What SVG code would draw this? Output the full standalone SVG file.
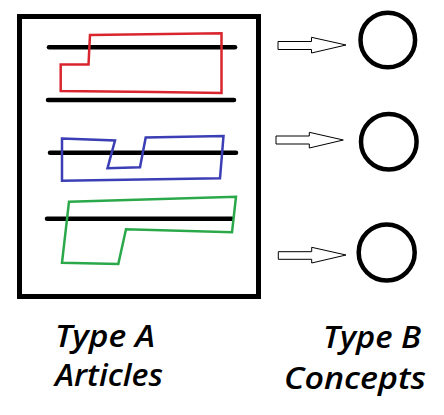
<svg xmlns="http://www.w3.org/2000/svg" width="444" height="415" viewBox="0 0 444 415">
<style>
.bar{stroke:#000;stroke-width:4.5;stroke-linecap:round}
.reg{fill:none;stroke-width:2.5;stroke-linejoin:miter}
.arrow{fill:#fff;stroke:#000;stroke-width:1}
.concept{fill:none;stroke:#000;stroke-width:4.5}
.lbl{font-family:"Open Sans","DejaVu Sans",sans-serif;font-style:italic;font-weight:600;font-size:31px;fill:#000}
</style>
<rect width="444" height="415" fill="#fff"/>
<g id="typeA">
<rect x="19.5" y="16.5" width="239" height="280" fill="none" stroke="#000" stroke-width="5"/>
<line class="bar" x1="49" y1="47.3" x2="235" y2="47.3"/>
<line class="bar" x1="48" y1="100" x2="234" y2="100"/>
<line class="bar" x1="50" y1="152.7" x2="236" y2="152.7"/>
<line class="bar" x1="47" y1="218.7" x2="232" y2="218.7"/>
<polygon class="reg" stroke="#d9262e" points="90,35 221.5,33.3 221.5,93 155,92 60.7,91 60.7,64.5 88.5,64.5"/>
<polygon class="reg" stroke="#3b3eb4" points="62,138.5 115,140.5 107.5,168.3 140,167.3 145.7,137.5 223.5,136 220,178.3 62,180.7"/>
<polygon class="reg" stroke="#2aa84a" points="69,201.7 236,196.7 232,232.3 126,229.3 118.3,264 62,262.7"/>
</g>
<g id="connectors">
<polygon class="arrow" points="278,41.5 311.5,41.5 311.5,37.3 346,45 311.5,53 311.5,49.5 278,49.5"/>
<polygon class="arrow" points="276,136 309.3,136 309.3,132.3 343.3,140 309.3,148 309.3,144 276,144"/>
<polygon class="arrow" points="278.3,251.7 311.7,251.7 311.7,247.3 346,255 311.7,263 311.7,259.3 278.3,259.3"/>
</g>
<g id="concept1"><circle class="concept" cx="387.8" cy="40" r="27.3"/></g>
<g id="concept2"><circle class="concept" cx="388.8" cy="141.7" r="27.8"/></g>
<g id="concept3"><circle class="concept" cx="386.7" cy="252.5" r="28"/></g>
<g id="labelA">
<text class="lbl" x="55" y="346.7" textLength="100" lengthAdjust="spacingAndGlyphs">Type A</text>
<text class="lbl" x="55" y="385.5" textLength="108" lengthAdjust="spacingAndGlyphs">Articles</text>
</g>
<g id="labelB">
<text class="lbl" x="323" y="348" textLength="98" lengthAdjust="spacingAndGlyphs">Type B</text>
<text class="lbl" x="284" y="389" textLength="142" lengthAdjust="spacingAndGlyphs">Concepts</text>
</g>
</svg>
